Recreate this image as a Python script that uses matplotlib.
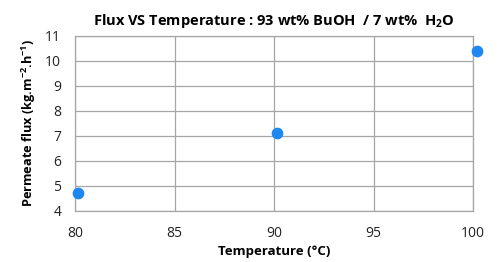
import matplotlib
matplotlib.use("Agg")
import matplotlib.pyplot as plt

temperature = [80.15, 90.15, 100.2]
flux = [4.72, 7.12, 10.4]
x_ticks = [80, 85, 90, 95, 100]
y_ticks = [4, 5, 6, 7, 8, 9, 10, 11]

plt.rcParams['font.family'] = ['Open Sans', 'DejaVu Sans']
plt.rcParams['mathtext.fontset'] = 'custom'
plt.rcParams['mathtext.rm'] = 'Open Sans'
plt.rcParams['mathtext.it'] = 'Open Sans:italic'
plt.rcParams['mathtext.bf'] = 'Open Sans:bold'

fig = plt.figure(figsize=(4.97, 2.62), dpi=100)
ax = fig.add_axes([0.151, 0.195, 0.801, 0.668])
ax.scatter(temperature, flux, s=55, color='#1E88F0', zorder=3, clip_on=False,
           edgecolors='#1E88F0')
ax.set_xlim(80, 100)
ax.set_ylim(4, 11)
ax.set_xticks(x_ticks)
ax.set_yticks(y_ticks)
ax.grid(True, color='#A6A6A6', linewidth=0.9)
ax.set_axisbelow(True)
for s in ax.spines.values():
    s.set_color('#A6A6A6')
    s.set_linewidth(0.9)
ax.tick_params(axis='y', length=0, labelsize=10, pad=10, colors='#222222')
ax.tick_params(axis='x', length=0, labelsize=10, pad=11, colors='#222222')
ax.set_xlabel('Temperature (°C)', fontsize=9.5, fontweight='bold', labelpad=3)
ax.set_ylabel(r'Permeate flux (kg.m$\mathbf{^{-2}}$.h$\mathbf{^{-1}}$)', fontsize=9.2,
              fontweight='bold', labelpad=5)
ax.set_title(r'Flux VS Temperature : 93 wt% BuOH  / 7 wt%  H$\mathbf{_2}$O', fontsize=10.5,
             fontweight='bold', pad=8)
fig.savefig('out.png', dpi=100)
